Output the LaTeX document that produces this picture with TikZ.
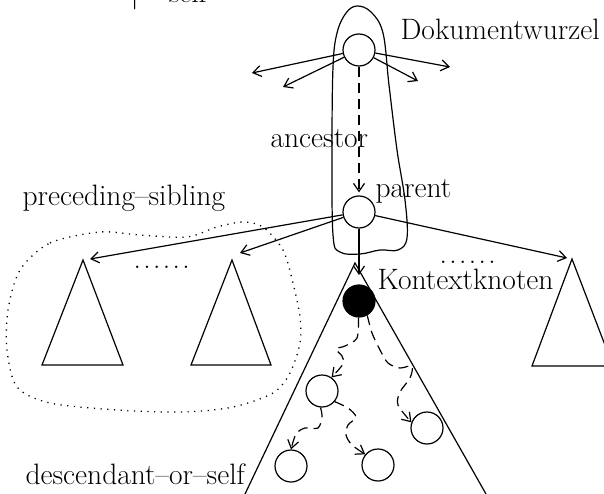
\documentclass[tikz,border=0pt]{standalone}
\usetikzlibrary{arrows.meta}
\begin{document}
\begin{tikzpicture}[x=1pt,y=-1pt,line width=1.2pt,
  arr/.style={-{Straight Barb[length=8pt,width=11pt]}},
  dsh/.style={dash pattern=on 10pt off 6pt},
  knot/.style={circle,draw,minimum size=32pt,inner sep=0pt},
  lbl/.style={font=\fontsize{29.5}{33}\selectfont,inner sep=0pt,anchor=base west},
  dotline/.style={dash pattern=on 1.2pt off 5.5pt,line width=1.3pt}]
\useasboundingbox (0,0) rectangle (604,494);
% circles
\node[knot] (root) at (359,50) {};
\node[knot] (parent) at (359,212) {};
\node[knot,fill=black] (ctx) at (359,301) {};
\node[knot] (a) at (322,391) {};
\node[knot] (b) at (427,428) {};
\node[knot] (c) at (291,466) {};
\node[knot] (d) at (378,465) {};
% free ends
\coordinate (r1) at (252,73);
\coordinate (r2) at (283,87);
\coordinate (r3) at (450,67);
\coordinate (r4) at (418,81);
\coordinate (tip1) at (90,259);
\coordinate (tip2) at (240,253);
\coordinate (tip3) at (567,258);
\coordinate (apx) at (359,275);
% triangles
\coordinate (t1) at (83,260);
\coordinate (t2) at (232,260);
\coordinate (t3) at (572,259);
\coordinate (tb) at (355,263);
\draw (t1) -- (42,365) -- (123,365) -- cycle;
\draw (t2) -- (191,365) -- (271,365) -- cycle;
\draw (t3) -- (532,366) -- (613,366) -- cycle;
\draw (245,494) -- (tb) -- (486,494);
% envelope
\draw plot[smooth cycle,tension=0.6] coordinates {(357,6) (371,12) (383,33) (389,85) (397,150) (405,200) (407,238) (398,250) (380,250) (360,254) (340,252) (333,235) (332,150) (333,67) (337,33) (346,13)};
% dotted contour
\draw[dotline] plot[smooth cycle] coordinates {(20,270) (50,243) (100,232) (140,235) (187,237) (217,227) (243,222) (263,227) (283,250) (293,283) (300,317) (300,343) (290,373) (273,393) (233,407) (183,412) (117,410) (50,403) (17,387) (7,350) (8,310)};
% arrows from root
\draw[arr] (root) -- (r1);
\draw[arr] (root) -- (r2);
\draw[arr] (root) -- (r3);
\draw[arr] (root) -- (r4);
\draw[arr,dsh,shorten >=3pt] (root) -- (parent);
% arrows from parent
\draw[arr] (parent) -- (tip1);
\draw[arr] (parent) -- (tip2);
\draw[arr] (parent) -- (tip3);
\draw[arr] (parent) -- (apx);
% dashed descendant arrows
\draw[arr,dsh] plot[smooth] coordinates {(ctx.-92) (357,338) (345,346) (336,349) (342,356) (343,364) (a.55)};
\draw[arr,dsh] plot[smooth] coordinates {(ctx.-60) (372,333) (380,350) (388,363) (400,368) (412,366) (410,378) (400,392) (398,405) (b.160)};
\draw[arr,dsh] plot[smooth] coordinates {(a.-95) (322,417) (318,428) (305,428) (296,434) (c.90)};
\draw[arr,dsh] plot[smooth] coordinates {(a.-40) (348,408) (356,417) (348,425) (346,435) (352,445) (d.140)};
% labels
\node[lbl] (dw) at (400,40) {Dokumentwurzel};
\node[lbl] (anc) at (270,148) {ancestor};
\node[lbl] (par) at (375,197) {parent};
\node[lbl] (ps) at (22,205) {preceding--sibling};
\node[lbl] (kk) at (377,289) {Kontextknoten};
\node[lbl] (dos) at (25,484) {descendant--or--self};
\node[lbl] (dots1) at (133,268) {.\kern2.4pt.\kern2.4pt.\kern2.4pt.\kern2.4pt.\kern2.4pt.};
\node[lbl] (dots2) at (439,263) {.\kern2.4pt.\kern2.4pt.\kern2.4pt.\kern2.4pt.\kern2.4pt.};
\node[lbl] (topfrag) at (130,3) {\textbar\hspace{30pt}self};
\end{tikzpicture}
\end{document}
